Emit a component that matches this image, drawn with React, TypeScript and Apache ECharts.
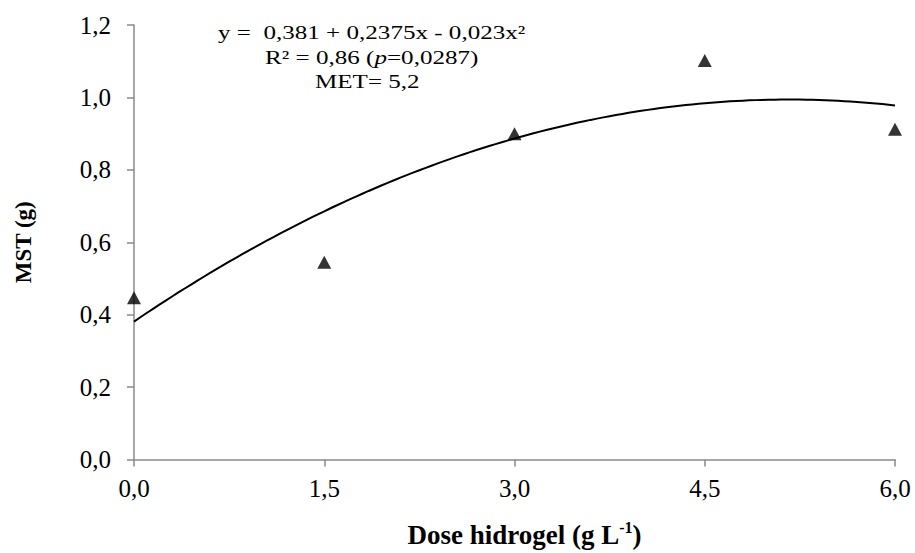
import React, { useEffect, useRef } from "react";
import * as echarts from "echarts";

const doses = [0, 1.5, 3.0, 4.5, 6.0];
const mstValues = [0.447, 0.545, 0.9, 1.102, 0.912];
const xTicks = [0, 1.5, 3.0, 4.5, 6.0];
const yTicks = [0, 0.2, 0.4, 0.6, 0.8, 1.0, 1.2];
// regression coefficients printed on the chart: y = a + b x + c x²
const trendCoefficients = [0.381, 0.2375, -0.023];
const equationLines = [
  "y =  0,381 + 0,2375x - 0,023x²",
  "R² = 0,86 (p=0,0287)",
  "MET= 5,2",
];

const FONT = "'Liberation Serif', 'Times New Roman', serif";

function fmt(v: number) {
  return v.toFixed(1).replace(".", ",");
}

export default function App() {
  const ref = useRef<HTMLDivElement>(null);
  useEffect(() => {
    if (!ref.current) return;
    const chart = echarts.init(ref.current, undefined, { renderer: "svg" });
    const curve: number[][] = [];
    const [a, b, c] = trendCoefficients;
    const n = 120;
    const xmax = xTicks[xTicks.length - 1];
    for (let i = 0; i <= n; i++) {
      const x = (xmax * i) / n;
      curve.push([x, a + b * x + c * x * x]);
    }
    const axisColor = "#8a8a8a";
    const eqStyle = { fontFamily: FONT, fontSize: 19, fill: "#000", verticalAlign: "middle", align: "left" };
    chart.setOption({
      animation: false,
      backgroundColor: "#ffffff",
      grid: { left: 134, right: 20, top: 25, bottom: 90, containLabel: false },
      xAxis: {
        type: "value",
        min: xTicks[0],
        max: xTicks[xTicks.length - 1],
        interval: 1.5,
        splitLine: { show: false },
        axisLine: { show: true, onZero: false, lineStyle: { color: axisColor, width: 1.5 } },
        axisTick: { show: true, length: 7, lineStyle: { color: axisColor, width: 1.5 } },
        axisLabel: {
          margin: 16,
          color: "#000",
          fontFamily: FONT,
          fontSize: 25,
          formatter: (v: number) => fmt(v),
        },
        name: "{a|Dose hidrogel (g L}{s|-1}{a|)}",
        nameLocation: "middle",
        nameGap: 60,
        nameTextStyle: {
          padding: [0, 0, 0, 20],
          rich: {
            a: { fontFamily: FONT, fontSize: 27, fontWeight: "bold", color: "#000", lineHeight: 30 },
            s: { fontFamily: FONT, fontSize: 16, fontWeight: "bold", color: "#000", verticalAlign: "top", lineHeight: 30, padding: [0, 0, 8, 0] },
          },
        },
      },
      yAxis: {
        type: "value",
        min: yTicks[0],
        max: yTicks[yTicks.length - 1],
        interval: 0.2,
        splitLine: { show: false },
        axisLine: { show: true, onZero: false, lineStyle: { color: axisColor, width: 1.5 } },
        axisTick: { show: true, length: 7, lineStyle: { color: axisColor, width: 1.5 } },
        axisLabel: {
          margin: 23,
          color: "#000",
          fontFamily: FONT,
          fontSize: 25,
          formatter: (v: number) => fmt(v),
        },
        name: "MST (g)",
        nameLocation: "middle",
        nameGap: 99,
        nameTextStyle: { fontFamily: FONT, fontSize: 23, fontWeight: "bold", color: "#000" },
      },
      series: [
        {
          type: "line",
          data: curve,
          symbol: "none",
          smooth: false,
          lineStyle: { color: "#000", width: 2 },
          z: 2,
        },
        {
          type: "scatter",
          data: doses.map((d, i) => [d, mstValues[i]]),
          symbol: "triangle",
          symbolSize: [14, 13],
          itemStyle: { color: "#000" },
          z: 3,
        },
      ],
      graphic: [
        {
          type: "text",
          x: 218,
          y: 33,
          scaleX: 1.32,
          style: { ...eqStyle, text: equationLines[0] },
        },
        {
          type: "text",
          x: 265,
          y: 58,
          scaleX: 1.32,
          style: {
            ...eqStyle,
            text: "{n|R² = 0,86 (}{i|p}{n|=0,0287)}",
            rich: {
              n: { fontFamily: FONT, fontSize: 19, fill: "#000" },
              i: { fontFamily: FONT, fontSize: 19, fontStyle: "italic", fill: "#000" },
            },
          },
        },
        {
          type: "text",
          x: 315,
          y: 82,
          scaleX: 1.32,
          style: { ...eqStyle, text: equationLines[2] },
        },
      ],
    });
    return () => chart.dispose();
  }, []);
  return (
    <div
      ref={ref}
      style={{ position: "fixed", left: 0, top: 0, width: 915, height: 553, background: "#fff" }}
    />
  );
}
